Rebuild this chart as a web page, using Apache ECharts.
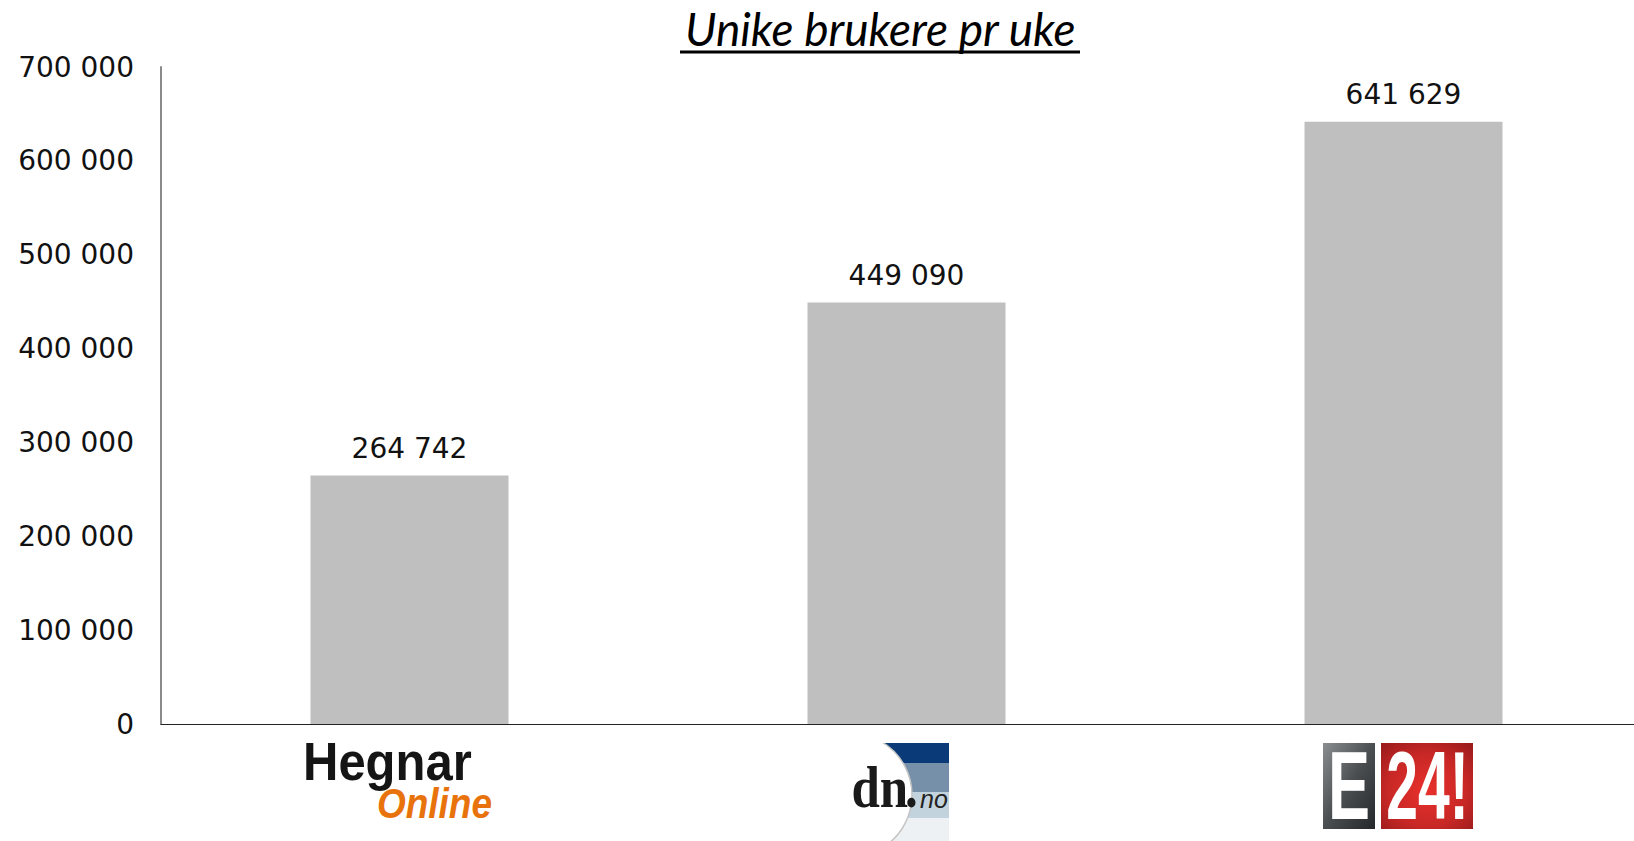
<!DOCTYPE html>
<html>
<head>
<meta charset="utf-8">
<script src="https://cdn.jsdelivr.net/npm/echarts@6/dist/echarts.min.js"></script>
<style>
  html, body { margin: 0; background: #fff; }
  #chart { width: 1634px; height: 841px; }
</style>
</head>
<body>
<div id="chart"></div>
<script>
const title = "Unike brukere pr uke";
const categories = ["Hegnar Online", "dn.no", "E24!"];
const weeklyUsers = [264742, 449090, 641629];
const yMin = 0;
const yMax = 700000;
const yStep = 100000;

const fmt = (v) => String(v).replace(/\B(?=(\d{3})+(?!\d))/g, " ");
const numFont = { fontFamily: "DejaVu Sans", fontSize: 28, color: "#111" };

const chart = echarts.init(document.getElementById("chart"), null, { renderer: "svg" });
chart.setOption({
  animation: false,
  title: {
    text: title,
    left: 680,
    top: 0,
    textStyle: { fontFamily: "Lato", fontStyle: "italic", fontWeight: "normal", fontSize: 46, color: "#000" },
  },
  // plot runs a little past the right edge, as in the original slide
  grid: { left: 161, width: 1491, top: 67, bottom: 117, outerBoundsMode: "none", containLabel: false },
  xAxis: {
    type: "category",
    data: categories,
    axisTick: { show: false },
    axisLabel: { show: false },
    axisLine: { lineStyle: { color: "#222", width: 1 } },
  },
  yAxis: {
    type: "value",
    min: yMin,
    max: yMax,
    interval: yStep,
    splitLine: { show: false },
    axisLine: { show: true, lineStyle: { color: "#8a8a8a", width: 2 } },
    axisLabel: { ...numFont, margin: 27, formatter: fmt },
  },
  series: [{
    type: "bar",
    data: weeklyUsers,
    barWidth: 198,
    itemStyle: { color: "#bfbfbf" },
    label: { show: true, position: "top", distance: 13, ...numFont, formatter: (p) => fmt(p.value) },
  }],
});

// logos under the category axis, placed from the axis scale
const base = chart.convertToPixel({ yAxisIndex: 0 }, 0);
const cx = categories.map((c) => chart.convertToPixel({ xAxisIndex: 0 }, c));

// condensed logo lettering: smaller font stretched upwards
function txt(text, x, y, font, extra) {
  return {
    type: "text", x, y, scaleY: extra.scaleY || 1,
    style: { text, x: 0, y: 0, ...font, fill: extra.fill || "#000", align: extra.align || "left", verticalAlign: "middle" },
  };
}

const hegnar = {
  type: "group", x: cx[0], y: base,
  children: [
    txt("Hegnar", -106.5, 38, { fontFamily: "Liberation Sans", fontWeight: "bold", fontSize: 49 }, { scaleY: 1.08, fill: "#151515" }),
    txt("Online", 82.5, 79, { fontFamily: "Liberation Sans", fontWeight: "bold", fontStyle: "italic", fontSize: 37 }, { scaleY: 1.13, fill: "#e8730c", align: "right" }),
  ],
};

const dn = {
  type: "group", x: cx[1], y: base,
  children: [
    { type: "rect", shape: { x: -63.5, y: 19, width: 106, height: 20 }, style: { fill: "#0b3a78" } },
    { type: "rect", shape: { x: -63.5, y: 39, width: 106, height: 29 }, style: { fill: "#7590a8" } },
    { type: "rect", shape: { x: -63.5, y: 68, width: 106, height: 26 }, style: { fill: "#c3d3dd" } },
    { type: "rect", shape: { x: -63.5, y: 94, width: 106, height: 30 }, style: { fill: "#eef1f3" } },
    { type: "circle", shape: { cx: -56.5, cy: 71, r: 62 }, style: { fill: "#fff", stroke: "#c4c4c4", lineWidth: 1.5 } },
    { type: "rect", shape: { x: -135, y: 2, width: 71.5, height: 122 }, style: { fill: "#fff" } },
    { type: "rect", shape: { x: -135, y: 2, width: 185, height: 17 }, style: { fill: "#fff" } },
    txt("dn", -55, 63, { fontFamily: "Liberation Serif", fontWeight: "bold", fontSize: 51 }, { scaleY: 1.16, fill: "#1a1a1a" }),
    txt(".", -1.5, 63, { fontFamily: "Liberation Serif", fontWeight: "bold", fontSize: 51 }, { scaleY: 1.16, fill: "#1a1a1a" }),
    txt("no", 13.5, 75, { fontFamily: "Liberation Sans", fontStyle: "italic", fontSize: 25 }, { fill: "#222" }),
  ],
};

const e24 = {
  type: "group", x: cx[2], y: base,
  children: [
    { type: "rect", shape: { x: -80.5, y: 19, width: 52, height: 86 },
      style: { fill: new echarts.graphic.LinearGradient(0, 0, 1, 1, [
        { offset: 0, color: "#8a8e90" }, { offset: 0.5, color: "#4a4e51" }, { offset: 1, color: "#25282a" }]) } },
    { type: "rect", shape: { x: -22.5, y: 19, width: 92, height: 86 },
      style: { fill: new echarts.graphic.RadialGradient(0.5, 0.55, 0.7, [
        { offset: 0, color: "#e8302c" }, { offset: 0.6, color: "#c82826" }, { offset: 1, color: "#9c1c1c" }]) } },
    txt("E", -54.5, 62, { fontFamily: "Liberation Sans", fontWeight: "bold", fontSize: 63 }, { scaleY: 1.52, fill: "#fff", align: "center" }),
    txt("24!", 24, 62, { fontFamily: "Liberation Sans", fontWeight: "bold", fontSize: 57 }, { scaleY: 1.68, fill: "#fff", align: "center" }),
  ],
};

chart.setOption({
  graphic: [
    { type: "line", shape: { x1: 680, y1: 52, x2: 1080, y2: 52 }, style: { stroke: "#000", lineWidth: 3 } },
    hegnar, dn, e24,
  ],
});
</script>
</body>
</html>
